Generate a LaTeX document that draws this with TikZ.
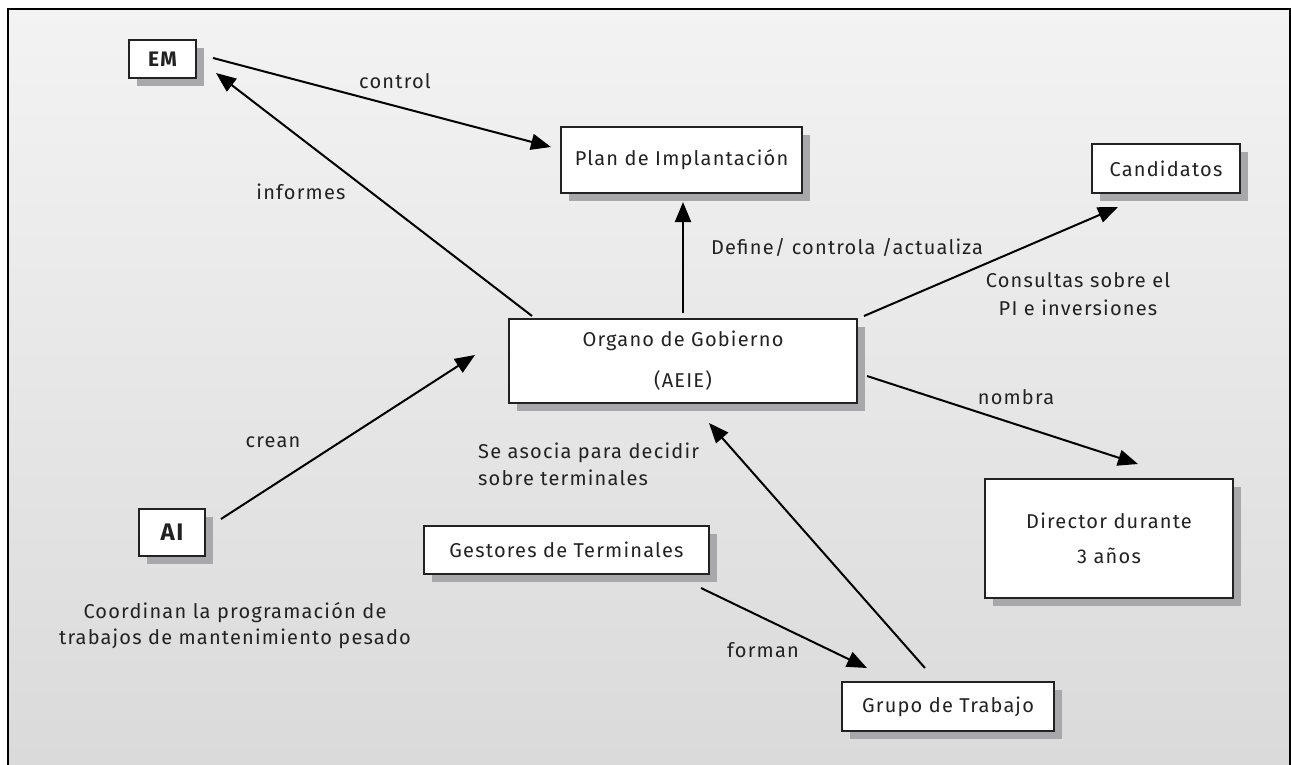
\documentclass[tikz,border=0pt]{standalone}
\usepackage{fontspec}
\setmainfont{Fira Sans}[LetterSpace=6]
\usetikzlibrary{arrows.meta,shadows}
\definecolor{bgtop}{HTML}{F3F3F3}
\definecolor{bgbot}{HTML}{DADADA}
\definecolor{shad}{HTML}{A8A8AB}
\definecolor{ink}{HTML}{222222}
\newcommand\lblfont{\fontsize{20}{24}\selectfont}
\begin{document}
\begin{tikzpicture}[x=1pt,y=-1pt,
  box/.style={draw=ink, line width=2pt, fill=white, inner sep=0pt, align=center,
    font=\lblfont, text=ink,
    drop shadow={shadow xshift=8pt, shadow yshift=-8pt, fill=shad, opacity=1}},
  arr/.style={draw=black, line width=2pt, -{Triangle[length=20pt,width=16pt]}},
  lbl/.style={font=\lblfont, text=ink, inner sep=0pt, align=center}]
\useasboundingbox (0,0) rectangle (1291,765);
\shade[top color=bgtop, bottom color=bgbot] (8,9) rectangle (1290,765);
\draw[line width=2pt, black] (8,766) -- (8,9) -- (1290,9) -- (1290,766);

% boxes
\node[box, minimum width=67pt, minimum height=38pt, font=\fontsize{21}{24}\selectfont\bfseries] (EM) at (162.5,59) {EM};
\node[box, minimum width=241pt, minimum height=66pt] (Plan) at (681.5,160) {Plan de Implantación};
\node[box, minimum width=148pt, minimum height=49pt] (Cand) at (1166,168.5) {Candidatos};
\node[box, minimum width=348pt, minimum height=84pt, font=\fontsize{20}{41}\selectfont] (Org) at (683,361) {Organo de Gobierno\\(AEIE)};
\node[box, minimum width=66pt, minimum height=47pt, font=\fontsize{24}{28}\selectfont\bfseries] (AI) at (172,532.5) {AI};
\node[box, minimum width=285pt, minimum height=48pt] (Gest) at (566.5,550) {Gestores de Terminales};
\node[box, minimum width=248pt, minimum height=119pt, font=\fontsize{20}{35}\selectfont] (Dir) at (1109,538.5) {Director durante\\3 años};
\node[box, minimum width=212pt, minimum height=49pt] (Grupo) at (948,706.5) {Grupo de Trabajo};

% connectors
\draw[arr] ([xshift=16pt,yshift=1pt]EM.east) -- ([xshift=-9pt,yshift=13pt]Plan.west);
\draw[arr] ([xshift=24pt,yshift=2pt]Org.north west) -- ([xshift=19pt,yshift=6pt]EM.south east);
\draw[arr] ([yshift=5pt]Org.north) -- ([yshift=-8pt]Org.north |- Plan.south);
\draw[arr] ([xshift=6pt,yshift=2pt]Org.north east) -- ([xshift=27pt,yshift=-13pt]Cand.south west);
\draw[arr] ([xshift=9pt,yshift=-15pt]Org.east) -- ([xshift=29pt,yshift=14pt]Dir.north);
\draw[arr] ([xshift=15pt,yshift=13.5pt]AI.east) -- ([xshift=-33pt,yshift=49pt]Org.south west);
\draw[arr] ([xshift=-23pt,yshift=13pt]Grupo.north) -- ([xshift=26pt,yshift=-19pt]Org.south);
\draw[arr] ([xshift=-9pt,yshift=-13pt]Gest.south east) -- ([xshift=26pt,yshift=13pt]Grupo.north west);

% labels
\node[lbl] (lcontrol) at (395,81) {control};
\node[lbl] (linformes) at (301,192) {informes};
\node[lbl] (ldefine) at (847,247) {Define/ controla /actualiza};
\node[lbl, font=\fontsize{20}{28}\selectfont] (lcons) at (1078,294) {Consultas sobre el\\PI e inversiones};
\node[lbl] (lnombra) at (1016,397) {nombra};
\node[lbl] (lcrean) at (273,442) {crean};
\node[lbl, align=left, anchor=west, font=\fontsize{20}{27}\selectfont] (lasocia) at (478,464) {Se asocia para decidir\\sobre terminales};
\node[lbl, font=\fontsize{20}{26}\selectfont] (lcoord) at (235,626) {Coordinan la programación de\\trabajos de mantenimiento pesado};
\node[lbl] (lforman) at (763,650) {forman};
\end{tikzpicture}
\end{document}
